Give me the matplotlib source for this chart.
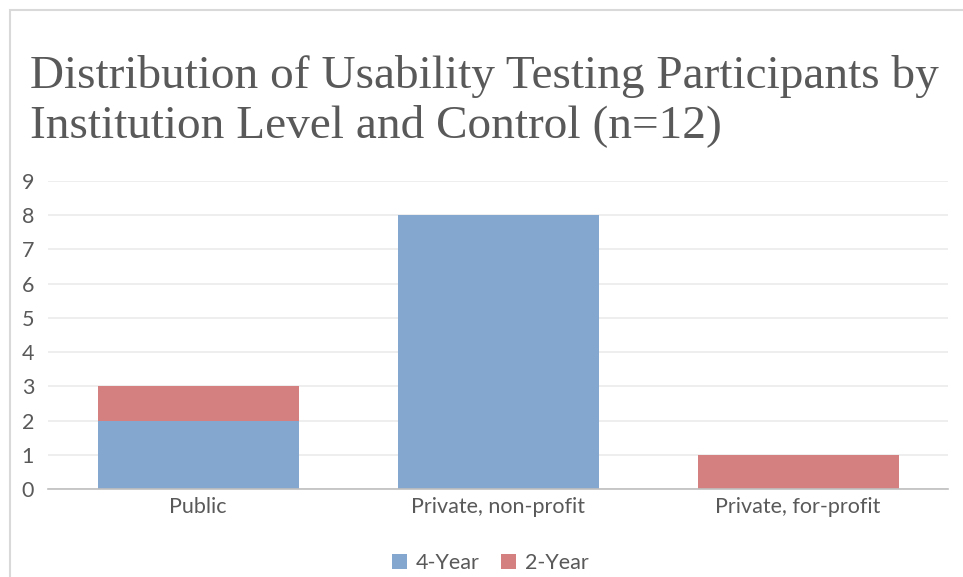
import matplotlib.pyplot as plt
from matplotlib.patches import Rectangle
import numpy as np

# Data
categories = ["Public", "Private, non-profit", "Private, for-profit"]
four_year = [2, 8, 0]
two_year = [1, 0, 1]
series_names = ["4-Year", "2-Year"]
y_ticks = list(range(0, 10))

blue = "#84A7CF"
red = "#D48080"
text_gray = "#595959"

fig = plt.figure(figsize=(9.63, 5.77), dpi=100)

# Chart area border (light gray, runs off the right and bottom)
fig.patches.append(Rectangle((10 / 963, -0.1), 1.1, 1 - 10 / 577 + 0.1,
                             transform=fig.transFigure, fill=False,
                             edgecolor="#D9D9D9", linewidth=1.5))

# Title
fig.text(30 / 963, 1 - 88 / 577, "Distribution of Usability Testing Participants by",
         fontsize=34, family="Liberation Serif", color=text_gray, va="baseline")
fig.text(30 / 963, 1 - 137 / 577, "Institution Level and Control (n=12)",
         fontsize=34, family="Liberation Serif", color=text_gray, va="baseline")

# Plot area
left, right = 48 / 963, 948 / 963
bottom, top = 1 - 489 / 577, 1 - 181 / 577
ax = fig.add_axes([left, bottom, right - left, top - bottom])

x = np.arange(len(categories))
ax.bar(x, four_year, width=0.67, color=blue, label=series_names[0], zorder=3)
ax.bar(x, two_year, width=0.67, bottom=four_year, color=red, label=series_names[1], zorder=3)

ax.set_xlim(-0.5, len(categories) - 0.5)
ax.set_ylim(0, 9)
ax.set_yticks(y_ticks)
ax.set_xticks(x)
ax.set_xticklabels(categories)
ax.yaxis.grid(True, color="#EBEBEB", linewidth=1.2, zorder=0)
ax.set_axisbelow(True)

for side in ["top", "right", "left"]:
    ax.spines[side].set_visible(False)
ax.spines["bottom"].set_color("#BFBFBF")
ax.spines["bottom"].set_linewidth(1.2)
ax.spines["bottom"].set_zorder(4)

ax.tick_params(axis="both", length=0, labelsize=15.5, labelcolor=text_gray)
ax.tick_params(axis="y", pad=10)
ax.tick_params(axis="x", pad=6)
for lbl in ax.get_xticklabels() + ax.get_yticklabels():
    lbl.set_family("Lato")

# Legend
leg = fig.legend(loc="center", bbox_to_anchor=(490 / 963, 1 - 563 / 577), ncol=2,
                 frameon=False, prop={"family": "Lato", "size": 15.5},
                 handlelength=0.7, handleheight=0.7, handletextpad=0.4, columnspacing=1.0)
for t in leg.get_texts():
    t.set_color(text_gray)

fig.savefig("out.png", dpi=100)
